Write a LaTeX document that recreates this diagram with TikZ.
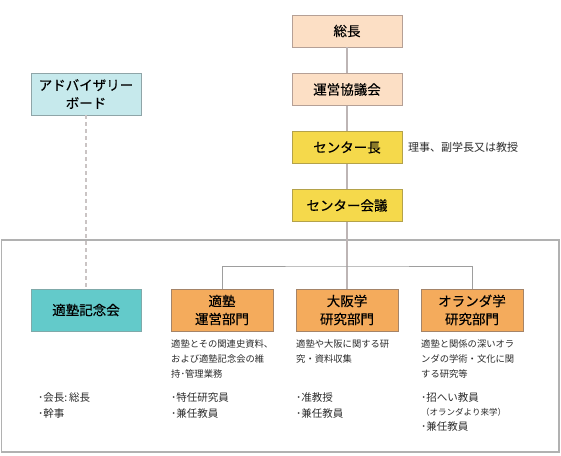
\documentclass[tikz,border=0pt]{standalone}
\usepackage{fontspec}
\setmainfont{Noto Sans CJK JP}
\newfontfamily\titlefont[FakeBold=0.3]{Noto Sans CJK JP}
\usetikzlibrary{positioning}
\usepackage{xcolor}

\definecolor{peach}{HTML}{FCDFC5}
\definecolor{peachline}{HTML}{B5A096}
\definecolor{chair}{HTML}{F5D94B}
\definecolor{chairline}{HTML}{B4A24A}
\definecolor{board}{HTML}{C6E9EC}
\definecolor{boardline}{HTML}{8FA5A8}
\definecolor{society}{HTML}{63CACA}
\definecolor{societyline}{HTML}{7FA9A9}
\definecolor{dept}{HTML}{F4AB5C}
\definecolor{deptline}{HTML}{A58468}
\definecolor{linkgray}{HTML}{BDB5B5}
\definecolor{framegray}{HTML}{9E9E9E}
\definecolor{bodytext}{HTML}{2B2B2B}

\begin{document}
\begin{tikzpicture}[x=1pt,y=-1pt,
    unit/.style={rectangle, draw, line width=0.8pt, minimum width=110pt, minimum height=32pt, font=\titlefont\fontsize{13.5}{18}\selectfont, align=center, inner sep=2pt},
    topunit/.style={unit, fill=peach, draw=peachline},
    chairunit/.style={unit, fill=chair, draw=chairline},
    boardunit/.style={unit, fill=board, draw=boardline, minimum height=42pt},
    societyunit/.style={unit, fill=society, draw=societyline, minimum height=42pt},
    deptunit/.style={unit, fill=dept, draw=deptline, minimum width=102pt, minimum height=42pt},
    link/.style={draw=linkgray, line width=1.6pt},
    dotlink/.style={draw=linkgray!80, line width=1.6pt, dash pattern=on 4pt off 3pt},
    branch/.style={draw=framegray, line width=1pt},
    frame/.style={draw=framegray!80, line width=1.2pt},
    desc/.style={anchor=north west, inner sep=0pt, align=left, text=bodytext, font=\fontsize{9.3}{15}\selectfont},
    members/.style={anchor=north west, inner sep=0pt, align=left, text=bodytext, font=\fontsize{10.5}{16}\selectfont}
]
\useasboundingbox (0,0) rectangle (561,455);

% Frame of the centre
\draw[frame] (1.5,240) rectangle (559,452);

% Top line
\node[topunit] (soucho) at (347,31) {総長};
\node[topunit] (unei) at (347,89.5) {運営協議会};
\node[chairunit] (chou) at (347,147.5) {センター長};
\node[chairunit] (kaigi) at (347,205.5) {センター会議};
\node[anchor=west, inner sep=0pt, font=\fontsize{11}{13}\selectfont, text=bodytext] (chounote) at (408,147.5) {理事、副学長又は教授};

% Advisory board
\node[boardunit] (advisory) at (86,94) {アドバイザリー\\ボード};

% Units inside the centre
\node[societyunit] (kinenkai) at (86,310) {適塾記念会};
\node[deptunit] (tekijuku) at (222,310) {適塾\\運営部門};
\node[deptunit] (osaka) at (347,310) {大阪学\\研究部門};
\node[deptunit] (oranda) at (472,310) {オランダ学\\研究部門};
\coordinate (junc) at (347,266);

% Connectors
\draw[link] (soucho) -- (unei);
\draw[link] (unei) -- (chou);
\draw[link] (chou) -- (kaigi);
\draw[link] (kaigi) -- (osaka);
\draw[branch] (tekijuku.north) |- (junc) -| (oranda.north);
\draw[dotlink] (advisory) -- (kinenkai);

% Descriptions
\node[desc] (tekijukudesc) at (171,339) {適塾とその関連史資料、\\および適塾記念会の維\\持･管理業務};
\node[desc] (osakadesc) at (296,339) {適塾や大阪に関する研\\究・資料収集};
\node[desc] (orandadesc) at (421,339) {適塾と関係の深いオラ\\ンダの学術・文化に関\\する研究等};

% Members
\node[members] (kinenkaimem) at (38,392) {･会長:\,総長\\･幹事};
\node[members] (tekijukumem) at (171,392) {･特任研究員\\･兼任教員};
\node[members] (osakamem) at (296,392) {･准教授\\･兼任教員};
\node[members, font=\fontsize{10.5}{14.5}\selectfont] (orandamem) at (421,392) {･招へい教員\\{\fontsize{8.5}{10}\selectfont（オランダより来学）}\\･兼任教員};

\end{tikzpicture}
\end{document}
